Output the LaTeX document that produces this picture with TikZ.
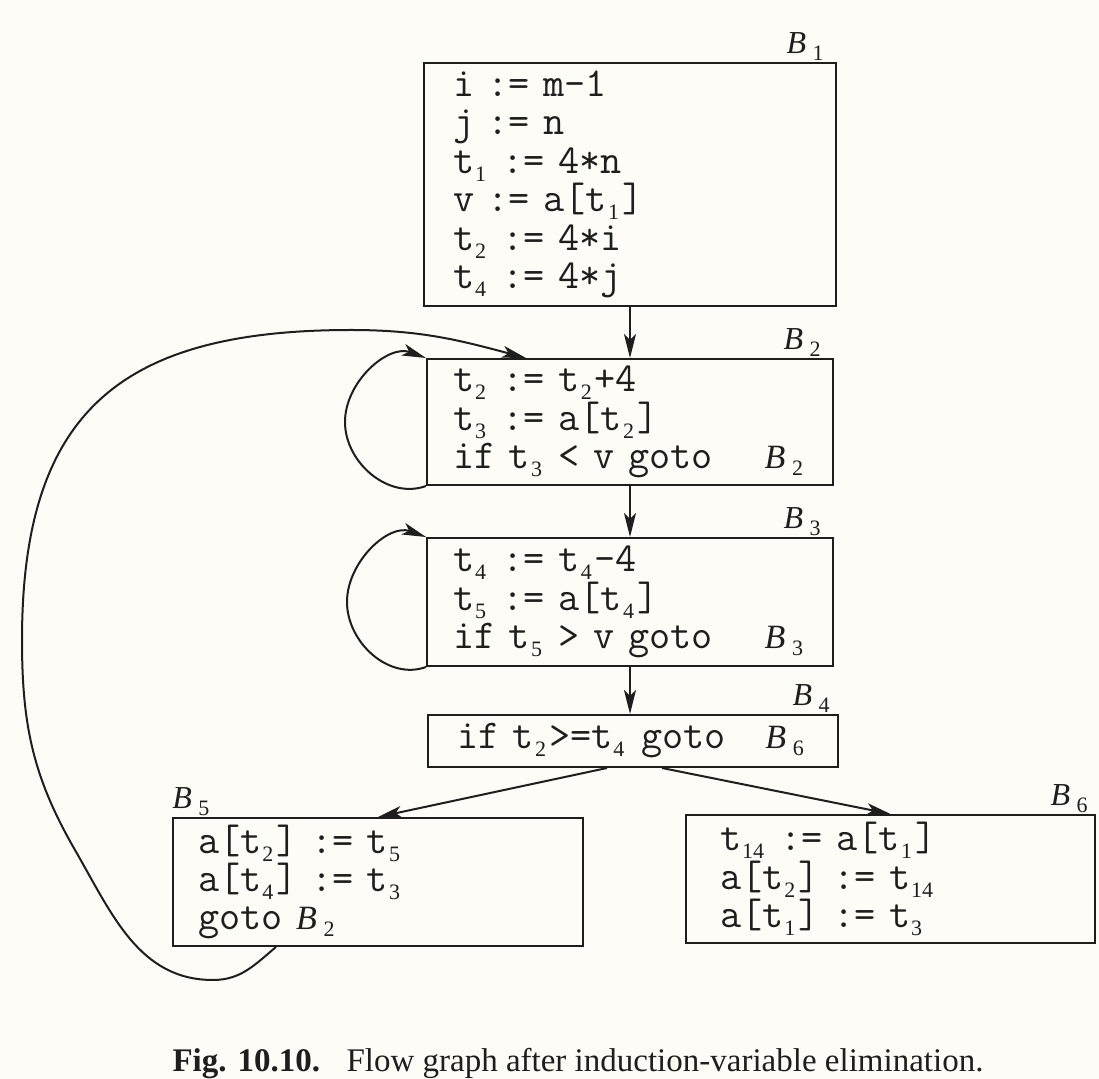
\documentclass[tikz,border=0pt]{standalone}
\usepackage{fontspec}
\setmainfont{Liberation Serif}
\usetikzlibrary{arrows.meta,calc}
\definecolor{paper}{RGB}{253,252,246}
\definecolor{ink}{RGB}{30,30,30}
\newcommand\code{\fontsize{20.5}{19.2}\selectfont\ttfamily}
\newcommand\sbx[1]{\kern0.5pt\raisebox{-0.45ex}{\fontsize{11}{11}\selectfont\rmfamily #1}\kern1.5pt\relax}
\newcommand\Bi[1]{{\rmfamily\itshape B}\,\sbx{#1}}
\newcommand\Bc[1]{{\fontsize{17}{17}\selectfont\Bi{#1}}}
\begin{document}
\begin{tikzpicture}[x=0.5pt,y=0.5pt,
  blk/.style={draw=ink, line width=1pt, align=left, font=\code, inner ysep=0pt, text=ink},
  lbl/.style={inner sep=0pt, font=\fontsize{16}{16}\selectfont, text=ink},
  arr/.style={draw=ink, line width=1pt, -{Stealth[length=12pt,width=6pt,inset=3pt]}}]
\fill[paper] (0,0) rectangle (1099,-1079);
\useasboundingbox (0,0) rectangle (1099,-1079);

\node[blk, text width=177pt, inner xsep=14.5pt, minimum height=121.5pt] (B1) at (630,-184.5)
  {i := m-1\\ j := n\\ t\sbx{1} := 4*n\\ v := a[t\sbx{1}]\\ t\sbx{2} := 4*i\\ t\sbx{4} := 4*j};
\node[blk, text width=177pt, inner xsep=13pt, minimum height=63pt] (B2) at (630,-422)
  {t\sbx{2} := t\sbx{2}+4\\ t\sbx{3} := a[t\sbx{2}]\\ if t\sbx{3} < v goto\hspace{26pt}\Bc{2}};
\node[blk, text width=177pt, inner xsep=13pt, minimum height=64pt] (B3) at (630,-602)
  {t\sbx{4} := t\sbx{4}-4\\ t\sbx{5} := a[t\sbx{4}]\\ if t\sbx{5} > v goto\hspace{26pt}\Bc{3}};
\node[blk, text width=176pt, inner xsep=14.5pt, minimum height=26pt] (B4) at (633,-741)
  {if t\sbx{2}>=t\sbx{4} goto\hspace{20pt}\Bc{6}};
\node[blk, text width=180pt, inner xsep=12.5pt, minimum height=64pt] (B5) at (378,-882)
  {a[t\sbx{2}] := t\sbx{5}\\ a[t\sbx{4}] := t\sbx{3}\\ goto \Bc{2}};
\node[blk, text width=170.5pt, inner xsep=17pt, minimum height=64pt] (B6) at (890.5,-879)
  {t\sbx{14} := a[t\sbx{1}]\\ a[t\sbx{2}] := t\sbx{14}\\ a[t\sbx{1}] := t\sbx{3}};

\node[lbl, anchor=base east] (L1) at ($(B1.north east)+(-10,8)$) {\Bi{1}};
\node[lbl, anchor=base east] (L2) at ($(B2.north east)+(-10,8)$) {\Bi{2}};
\node[lbl, anchor=base east] (L3) at ($(B3.north east)+(-10,8)$) {\Bi{3}};
\node[lbl, anchor=base east] (L4) at ($(B4.north east)+(-6,8)$) {\Bi{4}};
\node[lbl, anchor=base west] (L5) at ($(B5.north west)+(0,8)$) {\Bi{5}};
\node[lbl, anchor=base east] (L6) at ($(B6.north east)+(-5,8)$) {\Bi{6}};

\draw[arr] (B1.south) -- (B2.north);
\draw[arr] (B2.south) -- (B3.north);
\draw[arr] (B3.south) -- (B3.south |- B4.north);
\coordinate (o5) at ($(B4.south)+(-26,0)$);
\coordinate (o6) at ($(B4.south)+(29,0)$);
\draw[arr] (o5) -- (B5.north);
\draw[arr] (o6) -- (B6.north);

\draw[arr] (B2.south west) to[out=200,in=-90] (345,-422) to[out=90,in=160] (B2.north west);
\draw[arr] (B3.south west) to[out=200,in=-90] (347,-602) to[out=90,in=160] (B3.north west);

\coordinate (s5) at ($(B5.south west)+(104,0)$);
\coordinate (t2) at ($(B2.north west)+(100,0)$);
\draw[arr] (s5) to[out=-140,in=0] (213,-980) to[out=180,in=-60] (75,-850)
  to[out=120,in=-90] (22,-640) to[out=90,in=180,looseness=1.3] (351,-330)
  to[out=0,in=165] (t2);

\node[font=\fontsize{16.5}{16.5}\selectfont, text=ink, anchor=base, inner sep=0pt] (cap) at (578,-1072)
  {\textbf{Fig. 10.10.}\hspace{0.8em}Flow graph after induction-variable elimination.};
\end{tikzpicture}
\end{document}
